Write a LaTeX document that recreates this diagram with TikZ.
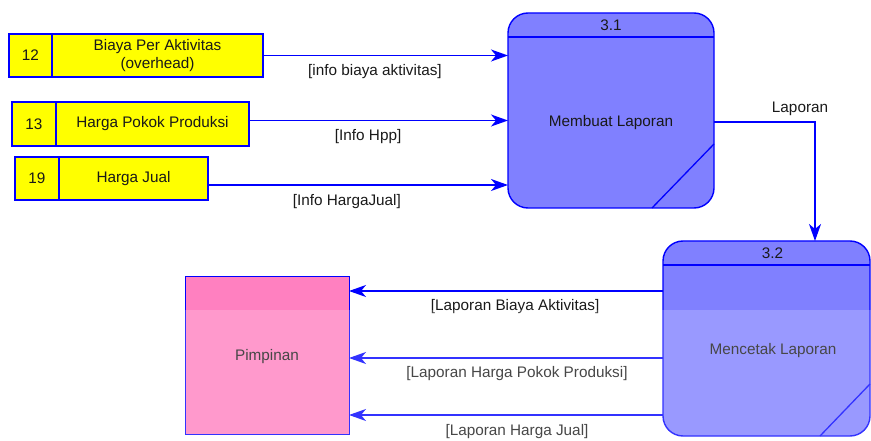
\documentclass[tikz,border=0pt]{standalone}
\usepackage{fontspec}
\setmainfont{Liberation Sans}
\usetikzlibrary{arrows.meta,calc}
\definecolor{dfdblue}{RGB}{0,0,255}
\definecolor{procfill}{RGB}{128,128,255}
\definecolor{extfill}{RGB}{255,128,192}
\definecolor{storefill}{RGB}{255,255,0}
\definecolor{inktext}{RGB}{25,25,25}
\begin{document}
\begin{tikzpicture}[x=1pt,y=-1pt,
  font=\fontsize{15.3}{17.5}\selectfont, text=inktext,
  storecell/.style={draw=dfdblue, line width=1.4pt, fill=storefill, inner sep=0pt, outer sep=0pt, anchor=north west},
  procbox/.style={draw=dfdblue, line width=1.4pt, fill=procfill, rounded corners=20pt,
    minimum height=195pt, inner sep=0pt, outer sep=0pt, anchor=north west},
  entity/.style={draw=dfdblue, line width=1pt, fill=extfill, minimum width=164pt,
    minimum height=158pt, inner sep=0pt, outer sep=0pt, anchor=north west},
  flow/.style={draw=dfdblue, line width=1.4pt, -{Stealth[length=17pt,width=12pt,inset=5pt]}},
  divider/.style={draw=dfdblue, line width=1.3pt},
  flowlabel/.style={inner sep=0pt}]
\useasboundingbox (0,0) rectangle (871,441);
\clip (0,0) rectangle (871,441);

% data stores
\node[storecell, minimum width=43pt, minimum height=43pt] (s12id) at (9,34) {12};
\node[storecell, minimum width=211pt, minimum height=43pt, align=center] (s12) at (s12id.north east) {Biaya Per Aktivitas\\(overhead)};
\node[storecell, minimum width=44pt, minimum height=44pt] (s13id) at (12,102) {13};
\node[storecell, minimum width=193pt, minimum height=44pt] (s13) at (s13id.north east) {Harga Pokok Produksi};
\node[storecell, minimum width=44pt, minimum height=43pt] (s19id) at (15,157) {19};
\node[storecell, minimum width=149pt, minimum height=43pt] (s19) at (s19id.north east) {Harga Jual};

% process 3.1
\node[procbox, minimum width=206pt] (p31) at (508,13) {};
\node (p31id) at ($(p31.north)+(0,12)$) {3.1};
\draw[divider] ($(p31.north west)+(0,24)$) -- ($(p31.north east)+(0,24)$);
\node (p31txt) at ($(p31.center)+(0,12.5)$) {Membuat Laporan};
\draw[divider] ($(p31.south east)+(-62,0)$) -- ($(p31.south east)+(0,-64)$);

% process 3.2
\node[procbox, minimum width=207pt] (p32) at (663,241) {};
\node (p32id) at ($(p32.north)+(6,12)$) {3.2};
\draw[divider] ($(p32.north west)+(0,24)$) -- ($(p32.north east)+(0,24)$);
\node (p32txt) at ($(p32.center)+(6.5,12.5)$) {Mencetak Laporan};
\draw[divider] ($(p32.south east)+(-50,0)$) -- ($(p32.south east)+(0,-52)$);

% external entity
\node[entity] (pim) at (185,276) {};
\node (pimtxt) at ($(pim.center)+(0,2)$) {Pimpinan};

% data flows into 3.1
\draw[flow] (s12.east) -- (s12.east -| p31.west)
  node[flowlabel, pos=0.457, yshift=-16pt] {[info biaya aktivitas]};
\draw[flow] ([yshift=3.5pt]s13.east) -- ([yshift=3.5pt]s13.east -| p31.west)
  node[flowlabel, pos=0.46, yshift=-16pt] {[Info Hpp]};
\draw[flow] ([yshift=-6.5pt]s19.east) -- ([yshift=-6.5pt]s19.east -| p31.west)
  node[flowlabel, pos=0.463, yshift=-17pt] {[Info HargaJual]};

% 3.1 to 3.2
\draw[flow] ([yshift=-11.5pt]p31.east) -| ([xshift=48.5pt]p32.north)
  node[flowlabel, pos=0.426, yshift=13pt] {Laporan};

% 3.2 to Pimpinan
\draw[flow] ([yshift=47.5pt]p32.west) -- ([yshift=47.5pt]p32.west -| pim.east)
  node[flowlabel, pos=0.471, yshift=-16pt] {[Laporan Biaya Aktivitas]};
\draw[flow] ([yshift=-19.5pt]p32.west) -- ([yshift=-19.5pt]p32.west -| pim.east)
  node[flowlabel, pos=0.465, yshift=-16pt] {[Laporan Harga Pokok Produksi]};
\draw[flow] ([yshift=-76.5pt]p32.west) -- ([yshift=-76.5pt]p32.west -| pim.east)
  node[flowlabel, pos=0.465, yshift=-17pt] {[Laporan Harga Jual]};

% lighter lower band
\fill[white, fill opacity=0.2] (0,310) rectangle (871,441);
\end{tikzpicture}
\end{document}
